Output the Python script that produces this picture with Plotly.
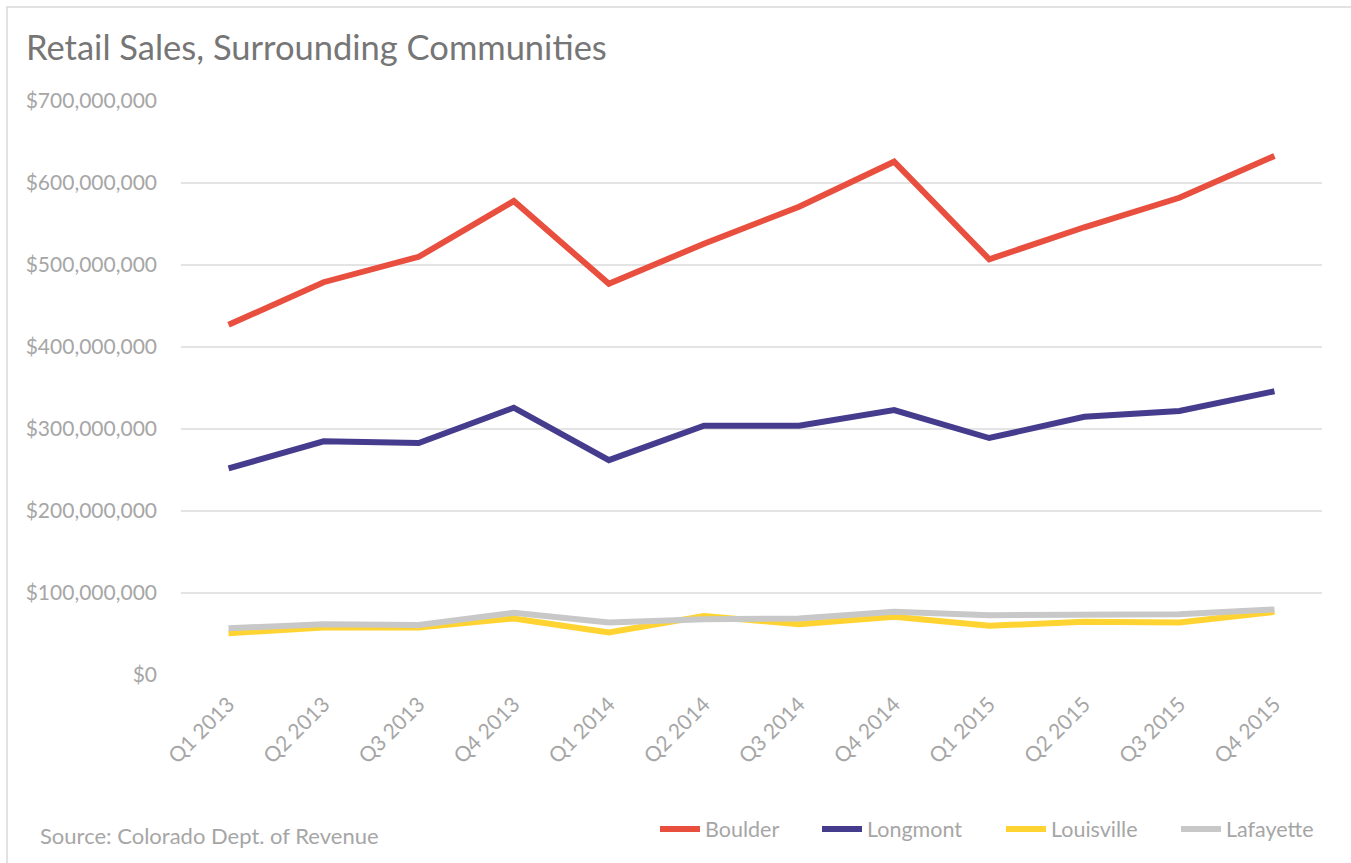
import plotly.graph_objects as go

quarters = ["Q1 2013", "Q2 2013", "Q3 2013", "Q4 2013",
            "Q1 2014", "Q2 2014", "Q3 2014", "Q4 2014",
            "Q1 2015", "Q2 2015", "Q3 2015", "Q4 2015"]

boulder = [427e6, 479e6, 510e6, 578e6, 477e6, 526e6, 571e6, 626e6, 507e6, 546e6, 582e6, 633e6]
longmont = [252e6, 285e6, 283e6, 326e6, 262e6, 304e6, 304e6, 323e6, 289e6, 315e6, 322e6, 346e6]
louisville = [51e6, 58e6, 58e6, 69e6, 52e6, 72e6, 62e6, 71e6, 60e6, 65e6, 64e6, 77e6]
lafayette = [57e6, 62e6, 61e6, 76e6, 64e6, 68e6, 69e6, 77e6, 73e6, 73e6, 74e6, 80e6]

series = [("Boulder", boulder, "#E94F3F"),
          ("Longmont", longmont, "#463C8E"),
          ("Louisville", louisville, "#FFD432"),
          ("Lafayette", lafayette, "#C8C8C8")]

FONT = "Lato"
GRAY = "#A6A6A6"

# left pixel of each legend entry (one legend per series)
legend_px = [655, 817, 1001, 1176]
legend_ids = ["legend", "legend2", "legend3", "legend4"]

fig = go.Figure()
for (name, vals, col), lid in zip(series, legend_ids):
    fig.add_trace(go.Scatter(x=quarters, y=vals, name=name, mode="lines",
                             line=dict(color=col, width=6), legend=lid,
                             hovertemplate="%{x}: $%{y:,.0f}<extra>" + name + "</extra>"))

legend_layout = {}
for lid, px in zip(legend_ids, legend_px):
    legend_layout[lid] = dict(orientation="h", x=(px - 181) / 1141, xanchor="left",
                              y=-(829 - 675) / 574, yanchor="middle",
                              font=dict(family=FONT, size=21.5, color=GRAY),
                              itemwidth=40, bgcolor="rgba(0,0,0,0)")

fig.update_layout(
    width=1351, height=863,
    margin=dict(l=181, r=29, t=101, b=188),
    paper_bgcolor="white", plot_bgcolor="white",
    font=dict(family=FONT, color=GRAY, size=21),
    title=dict(text="Retail Sales, Surrounding Communities",
               x=26 / 1351, xanchor="left", y=1 - 48 / 863, yanchor="middle",
               font=dict(family=FONT, size=34.5, color="#767676")),
    xaxis=dict(type="category", range=[-0.5, 11.5], tickangle=-45,
               showgrid=False, zeroline=False, showline=False, ticks="",
               ticklabelstandoff=12,
               tickfont=dict(family=FONT, size=21, color=GRAY)),
    yaxis=dict(range=[0, 700e6], dtick=100e6, tickprefix="$", tickformat=",.0f",
               showgrid=True, gridcolor="#E4E4E4", gridwidth=1.5, zeroline=False,
               showline=False, ticks="", ticklabelstandoff=23,
               tickfont=dict(family=FONT, size=21, color=GRAY)),
    showlegend=True,
    shapes=[dict(type="rect", xref="paper", yref="paper",
                 x0=(7 - 181) / 1141, x1=1.2, y0=-0.5, y1=(675 - 7) / 574,
                 line=dict(color="#D9D9D9", width=1.5), fillcolor="rgba(0,0,0,0)",
                 layer="below")],
    annotations=[dict(text="Source: Colorado Dept. of Revenue", xref="paper", yref="paper",
                      x=(38 - 181) / 1141, xanchor="left", y=-(835 - 675) / 574,
                      yanchor="middle", showarrow=False,
                      font=dict(family=FONT, size=22, color=GRAY))],
    **legend_layout,
)

fig.write_html("out.html")
